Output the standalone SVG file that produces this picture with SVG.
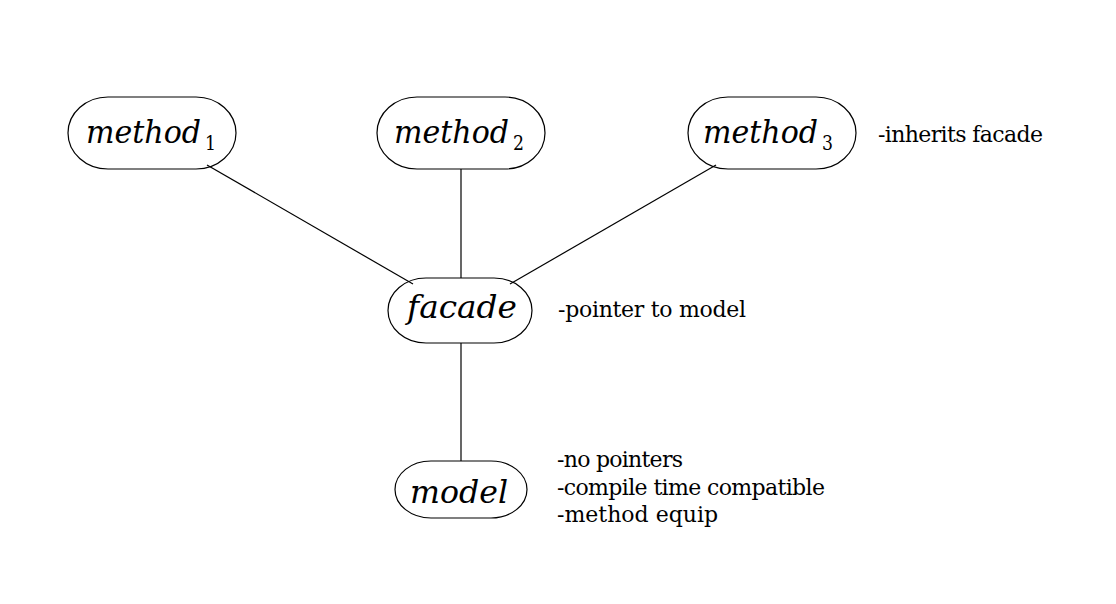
<svg xmlns="http://www.w3.org/2000/svg" width="1116" height="604" viewBox="0 0 1116 604">
<style>
.node{fill:none;stroke:#000;stroke-width:1.2}
.edge{stroke:#000;stroke-width:1.2;fill:none}
text{fill:#000}
.m{font-style:italic;font-size:31px}
.sub{font-size:20px}
.note{font-size:22px}
</style>
<rect width="1116" height="604" fill="#fff"/>
<g id="connectors">
<line class="edge" x1="207" y1="165" x2="413" y2="284"/>
<line class="edge" x1="461" y1="169" x2="461" y2="278"/>
<line class="edge" x1="716" y1="165" x2="510" y2="284"/>
<line class="edge" x1="461" y1="343" x2="461" y2="461"/>
</g>
<g font-family="'DejaVu Serif', 'Liberation Serif', serif">
<g id="method1">
<rect class="node" x="68" y="97" width="168" height="72" rx="40" ry="36"/>
<text class="m" x="86" y="143" textLength="115" lengthAdjust="spacingAndGlyphs">method</text>
<text class="sub" x="205" y="150" textLength="11" lengthAdjust="spacingAndGlyphs">1</text>
</g>
<g id="method2">
<rect class="node" x="377" y="97" width="168" height="72" rx="40" ry="36"/>
<text class="m" x="394" y="143" textLength="115" lengthAdjust="spacingAndGlyphs">method</text>
<text class="sub" x="513" y="150" textLength="11" lengthAdjust="spacingAndGlyphs">2</text>
</g>
<g id="method3">
<rect class="node" x="688" y="97" width="168" height="72" rx="40" ry="36"/>
<text class="m" x="703" y="143" textLength="115" lengthAdjust="spacingAndGlyphs">method</text>
<text class="sub" x="822" y="150" textLength="11" lengthAdjust="spacingAndGlyphs">3</text>
</g>
<g id="facade">
<rect class="node" x="388" y="278" width="144" height="65" rx="38" ry="32.5"/>
<text class="m" x="407" y="318" textLength="110" lengthAdjust="spacingAndGlyphs">facade</text>
</g>
<g id="model">
<rect class="node" x="395" y="461" width="132" height="57" rx="36" ry="28.5"/>
<text class="m" x="410" y="503" textLength="98" lengthAdjust="spacingAndGlyphs">model</text>
</g>
<g id="notes">
<text class="note" x="878" y="142" textLength="165" lengthAdjust="spacing">-inherits facade</text>
<text class="note" x="558" y="317" textLength="188" lengthAdjust="spacing">-pointer to model</text>
<text class="note" x="557" y="467" textLength="126" lengthAdjust="spacing">-no pointers</text>
<text class="note" x="557" y="495" textLength="268" lengthAdjust="spacing">-compile time compatible</text>
<text class="note" x="557" y="522">-method equip</text>
</g>
</g>
</svg>
